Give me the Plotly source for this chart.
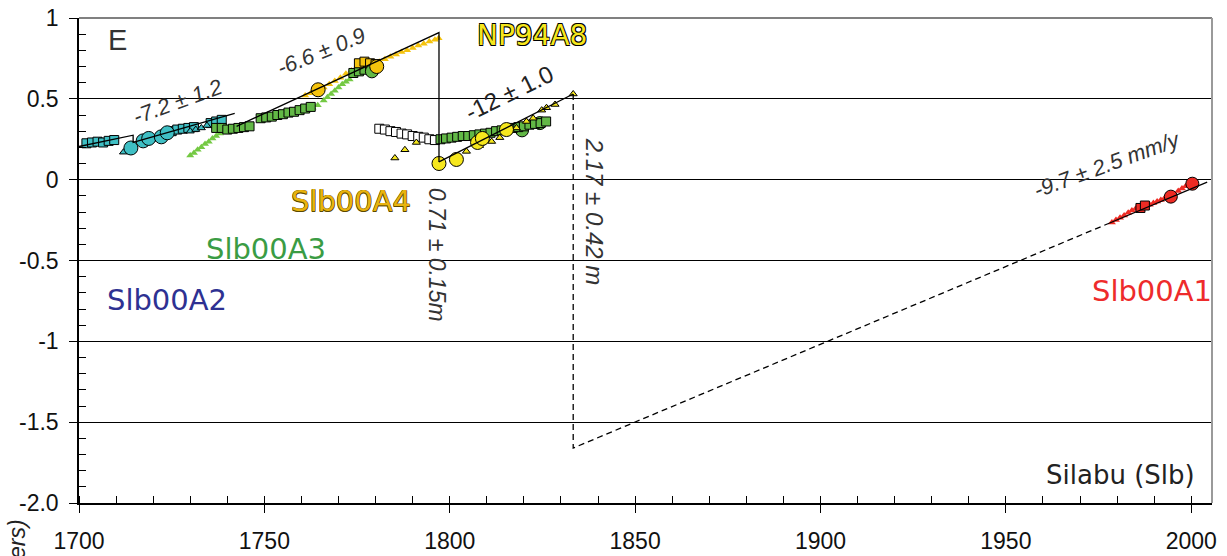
import plotly.graph_objects as go

# ---------------- data ----------------
# Slb00A2 (cyan)
a2_sq_x = [1702, 1703.5, 1705, 1706.5, 1708, 1709.5, 1725, 1726.5, 1728, 1729.5, 1731, 1735.5, 1737, 1738.5]
a2_sq_y = [0.225, 0.23, 0.235, 0.23, 0.24, 0.245, 0.30, 0.31, 0.315, 0.32, 0.325, 0.35, 0.36, 0.37]
a2_ci_x = [1714, 1717.3, 1718.8, 1722.2, 1723.8]
a2_ci_y = [0.196, 0.24, 0.255, 0.265, 0.29]
a2_tr_x = [1712, 1721, 1730, 1731.5, 1733, 1734.5]
a2_tr_y = [0.17, 0.25, 0.30, 0.31, 0.32, 0.335]

# Slb00A3 (green)
a3_tr_x = [1730, 1731, 1732, 1733, 1734, 1735, 1736, 1737, 1738, 1740, 1742, 1744, 1746,
           1762, 1763, 1764.4, 1766, 1767, 1768, 1769, 1770, 1771, 1772, 1773, 1774, 1775, 1776]
a3_tr_y = [0.15, 0.165, 0.185, 0.2, 0.22, 0.235, 0.255, 0.27, 0.285, 0.295, 0.305, 0.315, 0.325,
           0.43, 0.445, 0.46, 0.49, 0.51, 0.53, 0.55, 0.57, 0.59, 0.605, 0.62, 0.64, 0.655, 0.67]
a3_sq_x = [1737, 1738.5, 1740, 1741.5, 1743, 1744.5, 1746,
           1749, 1750.5, 1752, 1753.5, 1755, 1756.5, 1758, 1759.5, 1761, 1762.5,
           1774, 1775.5, 1777, 1778.5, 1780]
a3_sq_y = [0.32, 0.32, 0.31, 0.315, 0.32, 0.325, 0.33,
           0.38, 0.385, 0.39, 0.40, 0.405, 0.415, 0.42, 0.43, 0.44, 0.45,
           0.66, 0.67, 0.68, 0.69, 0.70]
mid_sq_x = [1797.5, 1799, 1800.5, 1802, 1803.5, 1805, 1806.5, 1808, 1809.5, 1811, 1812.5,
            1814, 1815.5, 1817, 1818.5, 1820, 1821.5, 1823, 1824.5, 1826]
mid_sq_y = [0.25, 0.255, 0.26, 0.265, 0.27, 0.27, 0.275, 0.28, 0.285, 0.29, 0.30,
            0.305, 0.31, 0.32, 0.325, 0.33, 0.34, 0.345, 0.35, 0.36]
a3_ci_x = [1779, 1819.5, 1824.3]
a3_ci_y = [0.67, 0.305, 0.35]

# Slb00A4 (gold)
a4_tr_x = [1761, 1762.5, 1764, 1766, 1767.5, 1769, 1770.5, 1772, 1773.5, 1775, 1776.5, 1778, 1779.5,
           1781, 1782.5, 1784, 1785.5, 1787, 1788.5, 1790, 1791.5, 1793, 1794.5, 1796, 1797]
a4_tr_y = [0.52, 0.535, 0.55, 0.57, 0.59, 0.61, 0.63, 0.655, 0.675, 0.695, 0.705, 0.71, 0.72,
           0.73, 0.745, 0.76, 0.775, 0.79, 0.80, 0.815, 0.83, 0.84, 0.855, 0.865, 0.875]
a4_sq_x = [1775.5, 1777, 1778.5, 1780]
a4_sq_y = [0.72, 0.73, 0.72, 0.715]
a4_ci_x = [1764.5, 1780.3]
a4_ci_y = [0.556, 0.70]

# NP94A8 (yellow)
np_ci_x = [1797.1, 1801.8, 1807.5, 1808.8, 1815.3]
np_ci_y = [0.10, 0.125, 0.23, 0.255, 0.31]
np_tr_x = [1785.2, 1787.9, 1791, 1804.5, 1808, 1811.3, 1813.5, 1818, 1820.7, 1822.5, 1824.8, 1826.1, 1828.4, 1833.3]
np_tr_y = [0.134, 0.185, 0.23, 0.175, 0.21, 0.236, 0.26, 0.32, 0.36, 0.38, 0.43, 0.445, 0.465, 0.53]

# open squares
wh_sq_x = [1781, 1782.5, 1784, 1785.5, 1787, 1788.5, 1790, 1791.5, 1793, 1794.5, 1796]
wh_sq_y = [0.315, 0.31, 0.30, 0.295, 0.285, 0.28, 0.27, 0.265, 0.26, 0.25, 0.245]

# Slb00A1 (red)
a1_tr_x = [1978.6, 1979.7, 1980.8, 1981.9, 1983, 1984, 1985, 1988.8, 1989.8, 1990.8, 1991.8, 1992.8,
           1996.5, 1997.5, 1998.5, 1999.5, 2000.5]
a1_tr_y = [-0.265, -0.25, -0.235, -0.222, -0.205, -0.19, -0.18, -0.155, -0.145, -0.135, -0.125, -0.115,
           -0.07, -0.055, -0.04, -0.02, -0.005]
a1_sq_x = [1986.3, 1987.5]
a1_sq_y = [-0.175, -0.16]
a1_ci_x = [1994.5, 2000.3]
a1_ci_y = [-0.105, -0.025]

# fit / offset lines
fit_a2_x = [1700, 1714.6, 1714.6, 1742]
fit_a2_y = [0.205, 0.275, 0.23, 0.41]
fit_a34_x = [1742.5, 1797.1, 1797.1]
fit_a34_y = [0.33, 0.91, 0.11]
fit_np_x = [1797.1, 1833.3]
fit_np_y = [0.11, 0.53]
drop_x = [1833.3, 1833.3, 1978]
drop_y = [0.53, -1.66, -0.268]
fit_a1_x = [1978, 2004.3]
fit_a1_y = [-0.268, -0.015]

y_ticks = [-2.0, -1.5, -1.0, -0.5, 0, 0.5, 1.0]
y_tick_text = ["-2.0", "-1.5", "-1", "-0.5", "0", "0.5", "1"]
x_ticks = [1700, 1750, 1800, 1850, 1900, 1950, 2000]

# ---------------- colours ----------------
CYAN = "#3fbfc4"
GREEN = "#62b846"
LGREEN = "#74c943"
GOLD = "#f4c20d"
YEL = "#f6e71d"
RED = "#ee2b24"

fig = go.Figure()


def add(x, y, symbol, color, size, outline=True, lw=1.0):
    fig.add_trace(go.Scatter(
        x=x, y=y, mode="markers", showlegend=False, hoverinfo="skip",
        marker=dict(symbol=symbol, color=color, size=size,
                    line=dict(color="black" if outline else color, width=lw if outline else 0))))


def line(x, y, dash="solid", w=1.3):
    fig.add_trace(go.Scatter(x=x, y=y, mode="lines", showlegend=False, hoverinfo="skip",
                             line=dict(color="black", width=w, dash=dash)))


# markers
add(a3_tr_x, a3_tr_y, "triangle-up", LGREEN, 7, outline=False)
add(a4_tr_x, a4_tr_y, "triangle-up", GOLD, 7, outline=False)
add(a2_sq_x, a2_sq_y, "square", CYAN, 9)
add(a2_tr_x, a2_tr_y, "triangle-up", CYAN, 7)
add(a2_ci_x, a2_ci_y, "circle", CYAN, 14)
add(a3_sq_x, a3_sq_y, "square", GREEN, 9)
add(a4_sq_x, a4_sq_y, "square", GOLD, 9)
add(a3_ci_x, a3_ci_y, "circle", GREEN, 13)
add(a4_ci_x, a4_ci_y, "circle", GOLD, 14)
add(wh_sq_x, wh_sq_y, "square", "white", 9)
add(mid_sq_x, mid_sq_y, "square", GREEN, 9)
add(np_tr_x, np_tr_y, "triangle-up", YEL, 7)
add(np_ci_x, np_ci_y, "circle", YEL, 14)
add(a1_tr_x, a1_tr_y, "triangle-up", RED, 7, outline=False)
add(a1_sq_x, a1_sq_y, "square", RED, 9)
add(a1_ci_x, a1_ci_y, "circle", RED, 13)

# lines
line(fit_a2_x, fit_a2_y)
line(fit_a34_x, fit_a34_y)
line(fit_np_x, fit_np_y)
line(drop_x, drop_y, dash="6px,4px")
line(fit_a1_x, fit_a1_y)

# ---------------- annotations ----------------
SLOPE = "#333333"
ital = dict(family="Liberation Sans", size=22, color=SLOPE, style="italic")


def ann(text, x, y, font, angle=0, **kw):
    fig.add_annotation(text=text, x=x, y=y, xref="x", yref="y", showarrow=False,
                       textangle=angle, font=font, **kw)


def outline(c, w=1):
    return (f"{w}px {w}px 0 {c}, -{w}px -{w}px 0 {c}, {w}px -{w}px 0 {c}, -{w}px {w}px 0 {c}")


ann("E", 1710.4, 0.866, dict(family="Liberation Sans", size=29, color="#333333"))
ann("-7.2 ± 1.2", 1726.6, 0.485, ital, angle=-20)
ann("-6.6 ± 0.9", 1765.3, 0.79, ital, angle=-22)
ann("-12 ± 1.0", 1816.2, 0.537, dict(family="Liberation Sans", size=24, color="#222222"), angle=-26)
ann("-9.7 ± 2.5 mm/y", 1977.3, 0.093, ital, angle=-20)
ann("0.71 ± 0.15m", 1796.8, -0.463, dict(family="Liberation Sans", size=23, color=SLOPE, style="italic"), angle=90)
ann("2.17 ± 0.42 m", 1838.9, -0.198, dict(family="Liberation Sans", size=24, color=SLOPE, style="italic"), angle=90)

lab = "DejaVu Sans"
ann("NP94A8", 1822.1, 0.889, dict(family=lab, size=28, color=YEL, shadow=outline("#000000", 0.8)))
ann("Slb00A4", 1773.4, -0.13, dict(family=lab, size=29, color="#e8b30e", shadow=outline("#5a4800", 0.5)))
ann("Slb00A3", 1750.4, -0.426, dict(family=lab, size=29, color="#3a9c44"))
ann("Slb00A2", 1723.8, -0.747, dict(family=lab, size=29, color="#2e3192"))
ann("Slb00A1", 1989.5, -0.691, dict(family=lab, size=29, color="#ee2b2b"))
ann("Silabu (Slb)", 1980.8, -1.827, dict(family=lab, size=26, color="#222222"))

fig.add_annotation(text="(meters)", xref="paper", yref="paper", x=-0.0547, y=-0.0289,
                   xanchor="center", yanchor="top", showarrow=False, textangle=-90,
                   font=dict(family="Liberation Sans", size=23, color="#222222", style="italic"))

# grey top / right frame
fig.add_shape(type="line", xref="paper", yref="paper", x0=0, x1=1, y0=1, y1=1,
              line=dict(color="#808080", width=2), layer="above")
fig.add_shape(type="line", xref="paper", yref="paper", x0=1, x1=1, y0=0, y1=1,
              line=dict(color="#9a9a9a", width=2), layer="above")

XR = [1700, 2005.6]
tickfont = dict(family="Liberation Sans", size=23, color="#111111")
fig.update_layout(
    width=1227, height=556,
    margin=dict(l=79, r=15, t=18, b=53, autoexpand=False),
    paper_bgcolor="white", plot_bgcolor="white",
    xaxis=dict(range=XR, tickmode="array", tickvals=x_ticks, ticks="outside", ticklen=8,
               tickwidth=1.3, tickcolor="black", showgrid=False, zeroline=False,
               showline=True, linecolor="black", linewidth=1.5, tickfont=tickfont,
               ticklabelstandoff=9, automargin=False,
               minor=dict(ticks="inside", dtick=10, tick0=1700, ticklen=7, tickwidth=1.2,
                          tickcolor="black", showgrid=False)),
    xaxis2=dict(range=XR, overlaying="x", anchor="y", side="bottom", tickmode="array",
                tickvals=x_ticks, ticks="inside", ticklen=7, tickwidth=1.3, tickcolor="black",
                showticklabels=False, showgrid=False, zeroline=False, showline=False,
                automargin=False),
    yaxis=dict(range=[-2.0, 1.0], tickmode="array", tickvals=y_ticks, ticktext=y_tick_text,
               ticks="outside", ticklen=8, tickwidth=1.3, tickcolor="black",
               showgrid=True, gridcolor="black", gridwidth=1.2, zeroline=False,
               showline=True, linecolor="black", linewidth=1.5, tickfont=tickfont,
               ticklabelstandoff=6, automargin=False,
               minor=dict(ticks="inside", dtick=0.1, tick0=0, ticklen=7, tickwidth=1.2,
                          tickcolor="black", showgrid=False)),
)
# dummy invisible trace so xaxis2 is drawn
fig.add_trace(go.Scatter(x=[1700], y=[-5], xaxis="x2", mode="markers", showlegend=False,
                         hoverinfo="skip", marker=dict(opacity=0)))

fig.write_html("out.html")
